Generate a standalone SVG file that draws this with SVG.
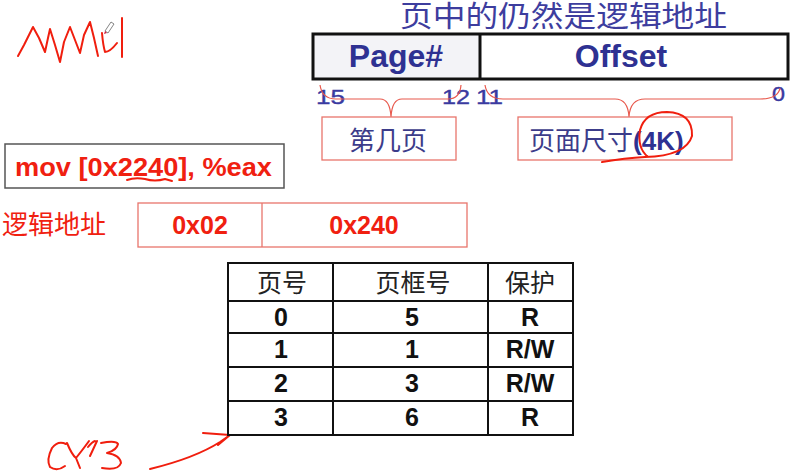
<svg xmlns="http://www.w3.org/2000/svg" width="800" height="475" viewBox="0 0 800 475">
  <style>
    .cjk { font-family: "Liberation Sans", "Noto Sans CJK SC", sans-serif; }
    .blue { fill: #3d3d9e; }
    .red { fill: #f02010; }
    .bold { font-family: "Liberation Sans", "Noto Sans CJK SC", sans-serif; font-weight: bold; }
    .ink { fill: none; stroke: #f01e0e; stroke-width: 2; stroke-linecap: round; stroke-linejoin: round; }
    .brace { fill: none; stroke: #e8584c; stroke-width: 1.2; }
    .redbox { fill: #ffffff; stroke: #e8756c; stroke-width: 1.3; }
    .grid { fill: none; stroke: #111; stroke-width: 2; }
    .cell { font-family: "Liberation Sans", sans-serif; font-weight: bold; font-size: 25px; fill: #111; text-anchor: middle; }
    .head { font-family: "Liberation Sans", "Noto Sans CJK SC", sans-serif; font-size: 25px; fill: #222; text-anchor: middle; }
    .bit { font-family: "Liberation Sans", sans-serif; font-size: 21px; fill: #3a3aa0; stroke: #3a3aa0; stroke-width: 0.4; }
  </style>
  <rect width="800" height="475" fill="#ffffff"/>

  <!-- handwritten MMU note with pen cursor -->
  <g id="note-mmu">
    <polyline class="ink" points="18,56 24,45 33,27 39,38 45,52 48,38 50,29 55,45 60,62 64,42 70,27 75,40 80,53 84,35 90,22 94,38 98,56"/>
    <path class="ink" d="M102,33 Q103,45 105,52 Q110,52 117,43"/>
    <path class="ink" d="M122,18 L122,57"/>
    <g id="pen-cursor">
      <path d="M105,31 L111,22 L114,24 L108,33 Z" fill="#ffffff" stroke="#666" stroke-width="0.8"/>
      <path d="M105,31 L104,34 L107,33 Z" fill="#d02040"/>
    </g>
  </g>

  <!-- title -->
  <g id="title">
    <text class="cjk blue" x="400" y="27" font-size="29" textLength="327" lengthAdjust="spacingAndGlyphs">页中的仍然是逻辑地址</text>
  </g>

  <!-- address format -->
  <g id="address-format">
    <rect x="313" y="34" width="167" height="45" fill="#f3f3f7"/>
    <rect x="313" y="34" width="475" height="45" fill="none" stroke="#111" stroke-width="3"/>
    <line x1="480" y1="34" x2="480" y2="79" stroke="#111" stroke-width="3"/>
    <text class="bold" x="396" y="67" font-size="32" fill="#2e3192" text-anchor="middle">Page#</text>
    <text class="bold" x="621" y="67" font-size="32" fill="#2e3192" text-anchor="middle">Offset</text>
  </g>

  <!-- bit positions -->
  <g id="bit-labels">
    <text class="bit" x="316" y="104" textLength="29" lengthAdjust="spacingAndGlyphs">15</text>
    <text class="bit" x="442" y="104" textLength="28" lengthAdjust="spacingAndGlyphs">12</text>
    <text class="bit" x="476" y="104" textLength="27" lengthAdjust="spacingAndGlyphs">11</text>
    <text class="bit" x="772" y="101" textLength="13" lengthAdjust="spacingAndGlyphs">0</text>
  </g>

  <!-- braces and arrow -->
  <g id="connectors">
    <path class="brace" d="M320,85 Q322,99 336,99 L380,99 Q390,99 391,117 M391,117 Q392,99 402,99 L448,99 Q460,99 461,85"/>
    <path class="brace" d="M485,85 Q487,99 503,99 L615,99 Q628,99 629,117 M629,117 Q630,99 645,99 L760,99 Q778,99 780,88"/>
    <path class="ink" d="M150,469 Q195,458 220,442 L230,435 M203,433 L230,435 L218,445" stroke-width="1.8"/>
  </g>

  <!-- page number label -->
  <g id="page-number">
    <rect class="redbox" x="322" y="117" width="134" height="43"/>
    <text class="cjk" x="388" y="150" font-size="26" fill="#3c3c8a" text-anchor="middle">第几页</text>
  </g>

  <!-- page size label -->
  <g id="page-size">
    <rect class="redbox" x="518" y="117" width="214" height="43"/>
    <text class="cjk" x="529" y="150" font-size="26" fill="#3c3c8a">页面尺寸<tspan font-weight="bold" fill="#2e3192">(4K)</tspan></text>
    <path class="ink" d="M602,162 Q625,158 645,157 Q686,156 692,136 Q693,113 667,112 Q645,112 640,130 Q637,148 648,157" stroke-width="1.6"/>
  </g>

  <!-- instruction -->
  <g id="instruction">
    <rect x="5" y="144" width="279" height="44" fill="#ffffff" stroke="#555" stroke-width="1.5"/>
    <text class="bold red" x="15" y="176" font-size="26" textLength="257" lengthAdjust="spacingAndGlyphs">mov [0x2240], %eax</text>
    <path class="ink" d="M127,180 Q135,177 145,179 Q155,182 165,179 L172,181" stroke-width="1.3"/>
  </g>

  <!-- logical address -->
  <g id="logical-address">
    <text class="cjk red" x="2" y="234" font-size="26">逻辑地址</text>
    <rect class="redbox" x="138" y="203" width="329" height="44"/>
    <line x1="262" y1="203" x2="262" y2="247" stroke="#e8756c" stroke-width="1.3"/>
    <text class="bold red" x="200" y="234" font-size="25" text-anchor="middle">0x02</text>
    <text class="bold red" x="364" y="234" font-size="25" text-anchor="middle">0x240</text>
  </g>

  <!-- page table -->
  <g id="page-table">
    <rect class="grid" x="228" y="263" width="345" height="172"/>
    <line class="grid" x1="333" y1="263" x2="333" y2="435"/>
    <line class="grid" x1="488" y1="263" x2="488" y2="435"/>
    <line class="grid" x1="228" y1="301" x2="573" y2="301"/>
    <line class="grid" x1="228" y1="333" x2="573" y2="333"/>
    <line class="grid" x1="228" y1="367" x2="573" y2="367"/>
    <line class="grid" x1="228" y1="401" x2="573" y2="401"/>
    <text class="head" x="282" y="292">页号</text>
    <text class="head" x="413" y="292">页框号</text>
    <text class="head" x="530" y="292">保护</text>
    <text class="cell" x="281" y="326">0</text><text class="cell" x="412" y="326">5</text><text class="cell" x="530" y="326">R</text>
    <text class="cell" x="281" y="358">1</text><text class="cell" x="412" y="358">1</text><text class="cell" x="530" y="358">R/W</text>
    <text class="cell" x="281" y="392">2</text><text class="cell" x="412" y="392">3</text><text class="cell" x="530" y="392">R/W</text>
    <text class="cell" x="281" y="426">3</text><text class="cell" x="412" y="426">6</text><text class="cell" x="530" y="426">R</text>
  </g>

  <!-- handwritten CY3 note -->
  <g id="note-cy3">
    <path class="ink" d="M66,444 Q58,440 52,448 Q46,460 50,467 Q57,472 65,466" stroke-width="1.8"/>
    <path class="ink" d="M67,443 Q72,455 76,458 Q84,448 89,441 M76,458 L80,468" stroke-width="1.8"/>
    <path class="ink" d="M88,447 Q92,442 95,441 M90,456 L97,441" stroke-width="1.8"/>
    <path class="ink" d="M101,443 Q116,440 118,444 Q117,450 107,453 Q120,455 121,463 Q118,471 102,468" stroke-width="1.8"/>
  </g>
</svg>
